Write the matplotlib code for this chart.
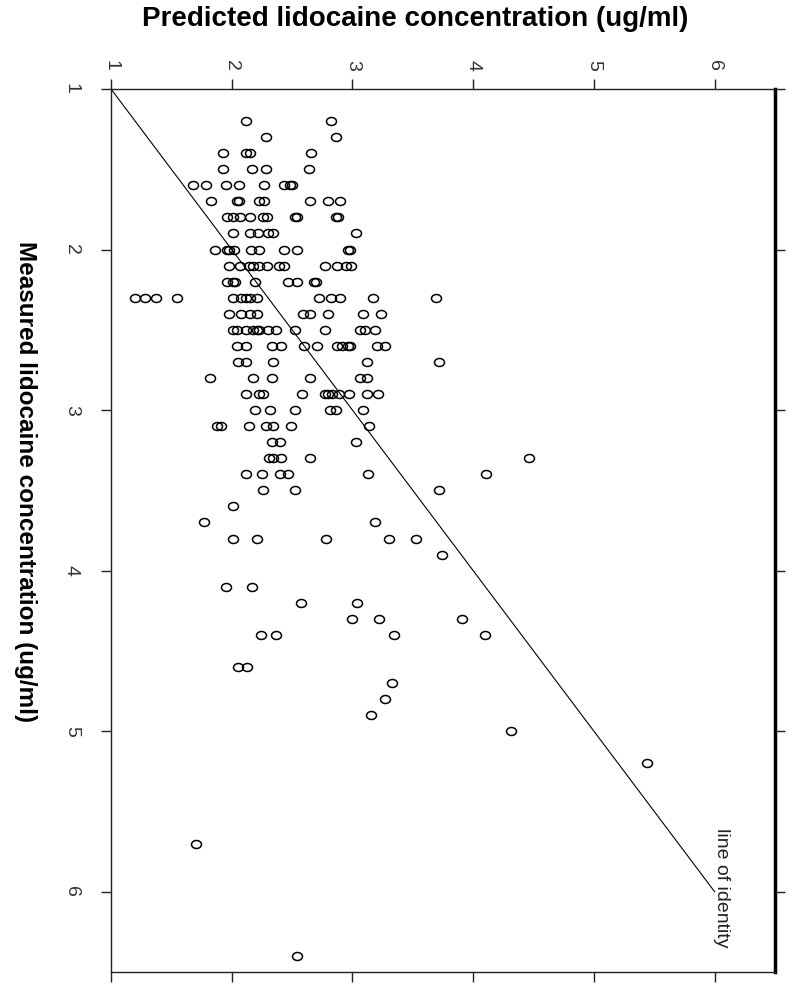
import matplotlib
matplotlib.use("Agg")
import matplotlib.pyplot as plt
from matplotlib.path import Path
from matplotlib.transforms import Affine2D

plt.rcParams["font.family"] = ["Liberation Sans", "DejaVu Sans"]

# measured (vertical axis) and predicted (horizontal axis), one row per measured value
measured = (
    [1.2] * 2 + [1.3] * 2 + [1.4] * 4 + [1.5] * 4 + [1.6] * 8 + [1.7] * 8
    + [1.8] * 10 + [1.9] * 6 + [2.0] * 10 + [2.1] * 12 + [2.2] * 8 + [2.3] * 14
    + [2.4] * 9 + [2.5] * 13 + [2.6] * 12 + [2.7] * 5 + [2.8] * 6 + [2.9] * 11
    + [3.0] * 6 + [3.1] * 7 + [3.2] * 3 + [3.3] * 5 + [3.4] * 6 + [3.5] * 3
    + [3.6] * 1 + [3.7] * 2 + [3.8] * 5 + [3.9] * 1 + [4.1] * 2 + [4.2] * 2
    + [4.3] * 3 + [4.4] * 4 + [4.6] * 2 + [4.7] * 1 + [4.8] * 1 + [4.9] * 1
    + [5.0] * 1 + [5.2] * 1 + [5.7] * 1 + [6.4] * 1
)
predicted = [
    2.12, 2.82,
    2.28, 2.86,
    1.93, 2.12, 2.15, 2.66,
    1.93, 2.17, 2.28, 2.64,
    1.68, 1.79, 1.95, 2.06, 2.27, 2.43, 2.48, 2.50,
    1.83, 2.04, 2.06, 2.23, 2.27, 2.65, 2.80, 2.90,
    1.96, 2.01, 2.07, 2.15, 2.26, 2.29, 2.52, 2.54, 2.86, 2.88,
    2.01, 2.15, 2.22, 2.30, 2.34, 3.03,
    1.86, 1.96, 1.98, 2.02, 2.16, 2.23, 2.43, 2.54, 2.96, 2.98,
    1.98, 2.07, 2.14, 2.18, 2.23, 2.29, 2.39, 2.43, 2.77, 2.87, 2.95, 2.99,
    1.96, 2.01, 2.03, 2.19, 2.47, 2.54, 2.68, 2.70,
    1.20, 1.28, 1.37, 1.55, 2.01, 2.08, 2.12, 2.15, 2.21, 2.72, 2.82, 2.90, 3.17, 3.69,
    1.98, 2.08, 2.15, 2.21, 2.59, 2.65, 2.80, 3.09, 3.24,
    2.01, 2.04, 2.12, 2.18, 2.21, 2.23, 2.30, 2.37, 2.52, 2.77, 3.06, 3.10, 3.19,
    2.04, 2.12, 2.33, 2.41, 2.60, 2.71, 2.87, 2.91, 2.96, 2.98, 3.20, 3.27,
    2.05, 2.12, 2.34, 3.12, 3.72,
    1.82, 2.18, 2.33, 2.65, 3.06, 3.12,
    2.12, 2.23, 2.26, 2.58, 2.77, 2.80, 2.83, 2.89, 2.97, 3.12, 3.21,
    2.19, 2.32, 2.52, 2.81, 2.86, 3.09,
    1.88, 1.91, 2.14, 2.28, 2.34, 2.49, 3.14,
    2.33, 2.40, 3.03,
    2.31, 2.34, 2.41, 2.65, 4.46,
    2.12, 2.25, 2.40, 2.47, 3.13, 4.11,
    2.26, 2.52, 3.72,
    2.01,
    1.77, 3.19,
    2.01, 2.21, 2.78, 3.30, 3.53,
    3.74,
    1.95, 2.17,
    2.57, 3.04,
    3.00, 3.22, 3.91,
    2.24, 2.37, 3.34, 4.10,
    2.05, 2.13,
    3.33,
    3.27,
    3.15,
    4.31,
    5.44,
    1.70,
    2.54,
]
ticks = [1, 2, 3, 4, 5, 6]
identity = [1, 6]

fig = plt.figure(figsize=(8, 9.95), dpi=100)
ax = fig.add_axes([111 / 800, 22 / 995, 664 / 800, 883 / 995])

# slightly wide open circle, as in the scanned figure
ring = Path.unit_circle().transformed(Affine2D().scale(1.25, 1.0))
ax.plot(predicted, measured, linestyle="none", marker=ring, markersize=7.2,
        markerfacecolor="none", markeredgecolor="black", markeredgewidth=1.1)
ax.plot(identity, identity, color="black", linewidth=0.8)
ax.text(6.06, 5.97, "line of identity", rotation=270, ha="center", va="center",
        fontsize=14, color="#222222")

ax.set_xlim(1, 6.5)
ax.set_ylim(6.5, 1)
ax.set_xticks(ticks)
ax.set_yticks(ticks)
ax.xaxis.tick_top()
ax.tick_params(axis="both", direction="out", length=7.5, width=1, color="#222222",
               labelsize=14, labelcolor="#333333",
               top=True, bottom=True, left=True, right=True,
               labeltop=True, labelbottom=False, labelleft=True, labelright=False)
ax.tick_params(axis="x", labelrotation=270, pad=6)
ax.tick_params(axis="y", labelrotation=270, pad=15)
for side in ["top", "left", "bottom"]:
    ax.spines[side].set_linewidth(1.0)
    ax.spines[side].set_color("#222222")
ax.spines["right"].set_linewidth(2.5)
ax.spines["right"].set_color("black")

fig.text(415 / 800, 1 - 19 / 995, "Predicted lidocaine concentration (ug/ml)",
         ha="center", va="center", fontsize=20, fontweight="bold")
fig.text(25 / 800, 1 - 482 / 995, "Measured lidocaine concentration (ug/ml)",
         rotation=270, ha="center", va="center", fontsize=17.5, fontweight="bold")

fig.savefig("out.png", dpi=100)
